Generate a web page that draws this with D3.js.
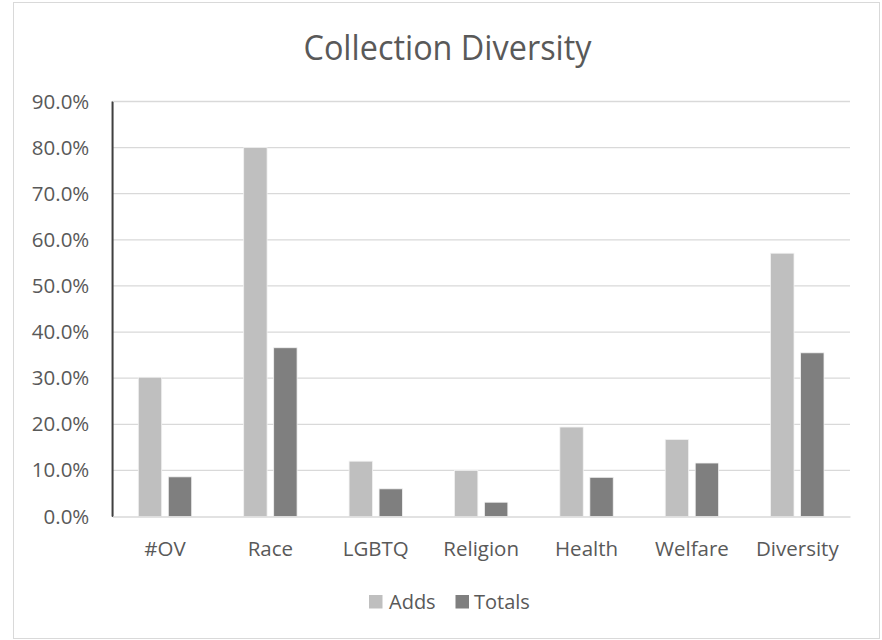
<!DOCTYPE html>
<html>
<head>
<meta charset="utf-8">
<script src="https://cdn.jsdelivr.net/npm/d3@7"></script>
<style>
  html, body { margin: 0; padding: 0; background: #fff; }
  svg { display: block; font-family: "Open Sans", "Noto Sans", sans-serif; }
</style>
</head>
<body>
<svg id="chart" width="882" height="640"></svg>
<script>
// Share of titles in each diversity category
const categories = ["#OV", "Race", "LGBTQ", "Religion", "Health", "Welfare", "Diversity"];
const seriesNames = ["Adds", "Totals"];
const addsValues = [30.2, 80.0, 12.0, 10.0, 19.4, 16.7, 57.1];
const totalsValues = [8.6, 36.6, 6.0, 3.1, 8.5, 11.6, 35.5];
const yTicks = [0, 10, 20, 30, 40, 50, 60, 70, 80, 90];
const seriesColors = ["#bfbfbf", "#7f7f7f"];

const seriesValues = [addsValues, totalsValues];
const rows = categories.map((c, i) => ({
  category: c,
  values: seriesNames.map((s, j) => ({ series: s, value: seriesValues[j][i] }))
}));

const svg = d3.select("#chart");
const textColor = "#595959";
const gridColor = "#d9d9d9";
const labelFont = "'Open Sans', 'Noto Sans', sans-serif";

// Outer chart frame
svg.append("rect")
  .attr("x", 13.5).attr("y", 2.5)
  .attr("width", 866).attr("height", 636)
  .attr("fill", "#fff").attr("stroke", gridColor).attr("stroke-width", 1);

// Title
svg.append("text")
  .attr("x", 447.5).attr("y", 59.5)
  .attr("text-anchor", "middle")
  .attr("fill", textColor)
  .style("font-size", "34px")
  .attr("textLength", 288)
  .attr("lengthAdjust", "spacingAndGlyphs")
  .text("Collection Diversity");

const plot = { left: 112.3, right: 850, top: 101.5, bottom: 516.5 };

const y = d3.scaleLinear().domain([0, 90]).range([plot.bottom, plot.top]);
const x0 = d3.scaleBand().domain(categories).range([plot.left, plot.right]).padding(0);
const groupPad = 26;
const x1 = d3.scaleBand().domain(seriesNames)
  .range([groupPad, x0.bandwidth() - groupPad])
  .paddingInner(0.22).paddingOuter(0);
const color = d3.scaleOrdinal().domain(seriesNames).range(seriesColors);

// Horizontal gridlines
svg.append("g")
  .selectAll("line")
  .data(yTicks.filter(t => t > 0))
  .join("line")
  .attr("x1", plot.left).attr("x2", plot.right)
  .attr("y1", d => y(d)).attr("y2", d => y(d))
  .attr("stroke", gridColor).attr("stroke-width", 1.3);

// Y axis with percentage labels
const yAxis = d3.axisLeft(y).tickValues(yTicks)
  .tickFormat(d => d3.format(".1f")(d) + "%")
  .tickSize(0).tickPadding(23);
const yg = svg.append("g").attr("transform", `translate(${plot.left},0)`).call(yAxis);
yg.select(".domain").attr("stroke", "#404040").attr("stroke-width", 1.5);
yg.selectAll("text").attr("fill", textColor).style("font-size", "20.5px")
  .style("font-family", labelFont);

// Bars
const groups = svg.append("g")
  .selectAll("g")
  .data(rows)
  .join("g")
  .attr("transform", d => `translate(${x0(d.category)},0)`);

groups.selectAll("rect")
  .data(d => d.values)
  .join("rect")
  .attr("x", d => x1(d.series))
  .attr("width", x1.bandwidth())
  .attr("y", d => y(d.value))
  .attr("height", d => y(0) - y(d.value))
  .attr("fill", d => color(d.series))
  .attr("stroke", "#f2f2f2").attr("stroke-width", 0.8);

// X axis baseline and category labels
const xAxis = d3.axisBottom(x0).tickSize(0).tickPadding(25);
const xg = svg.append("g").attr("transform", `translate(0,${plot.bottom})`).call(xAxis);
xg.select(".domain").attr("stroke", gridColor).attr("stroke-width", 1.3);
xg.selectAll("text").attr("fill", textColor).style("font-size", "20.5px")
  .style("font-family", labelFont);

// Vertical axis line drawn over the baseline
svg.append("line")
  .attr("x1", plot.left).attr("x2", plot.left)
  .attr("y1", plot.top).attr("y2", plot.bottom)
  .attr("stroke", "#404040").attr("stroke-width", 1.5);

// Legend
const legendItems = [
  { name: "Adds", sx: 369, tx: 389 },
  { name: "Totals", sx: 455.5, tx: 474 }
];
const legend = svg.append("g").selectAll("g").data(legendItems).join("g");
legend.append("rect")
  .attr("x", d => d.sx).attr("y", 595)
  .attr("width", 13.5).attr("height", 13.5)
  .attr("fill", d => color(d.name));
legend.append("text")
  .attr("x", d => d.tx).attr("y", 609)
  .attr("fill", textColor)
  .style("font-size", "20px")
  .text(d => d.name);
</script>
</body>
</html>
